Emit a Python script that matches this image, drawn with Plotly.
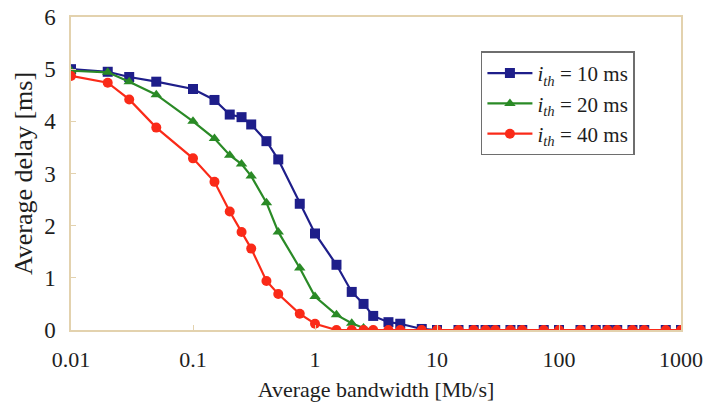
import plotly.graph_objects as go

bandwidth = [0.01, 0.02, 0.03, 0.05, 0.1, 0.15, 0.2, 0.25, 0.3, 0.4, 0.5, 0.75,
             1, 1.5, 2, 2.5, 3, 4, 5, 7.5, 10, 15, 20, 25, 30, 40, 50, 75,
             100, 150, 200, 250, 300, 400, 500, 750, 1000]

delay_10 = [5.0, 4.95, 4.85, 4.76, 4.62, 4.41, 4.13, 4.08, 3.94, 3.62, 3.27, 2.42,
            1.85, 1.25, 0.73, 0.5, 0.27, 0.15, 0.12, 0.02, 0.0, 0.0, 0.0, 0.0, 0.0, 0.0, 0.0, 0.0,
            0.0, 0.0, 0.0, 0.0, 0.0, 0.0, 0.0, 0.0, 0.0]
delay_20 = [4.97, 4.94, 4.76, 4.51, 4.0, 3.67, 3.35, 3.18, 2.95, 2.44, 1.88, 1.19,
            0.64, 0.29, 0.13, 0.04, 0.0, 0.0, 0.0, 0.0, 0.0, 0.0, 0.0, 0.0, 0.0, 0.0, 0.0, 0.0,
            0.0, 0.0, 0.0, 0.0, 0.0, 0.0, 0.0, 0.0, 0.0]
delay_40 = [4.87, 4.74, 4.42, 3.88, 3.29, 2.84, 2.27, 1.88, 1.56, 0.94, 0.69, 0.31,
            0.12, 0.0, 0.0, 0.0, 0.0, 0.0, 0.0, 0.0, 0.0, 0.0, 0.0, 0.0, 0.0, 0.0, 0.0, 0.0,
            0.0, 0.0, 0.0, 0.0, 0.0, 0.0, 0.0, 0.0, 0.0]

series_names = ["<i>i</i><sub><i>th</i></sub> = 10 ms",
                "<i>i</i><sub><i>th</i></sub> = 20 ms",
                "<i>i</i><sub><i>th</i></sub> = 40 ms"]

x_tickvals = [0.01, 0.1, 1, 10, 100, 1000]
x_ticktext = ["0.01", "0.1", "1", "10", "100", "1000"]
y_tickvals = [0, 1, 2, 3, 4, 5, 6]

FONT = "Liberation Serif"
AXIS_COLOR = "#E3D2AE"
TEXT_COLOR = "#1E1E1E"

fig = go.Figure()
styles = [
    (delay_10, "#1E1E8A", "square"),
    (delay_20, "#2A8A26", "triangle-up"),
    (delay_40, "#FA2A18", "circle"),
]
for (ys, color, symbol), name in zip(styles, series_names):
    fig.add_trace(go.Scatter(
        x=bandwidth, y=ys, mode="lines+markers", name=name,
        line=dict(color=color, width=2.2),
        marker=dict(symbol=symbol, size=10, color=color),
    ))

fig.update_layout(
    width=712, height=410,
    margin=dict(l=71, r=31, t=17, b=80, autoexpand=False),
    plot_bgcolor="white", paper_bgcolor="white",
    font=dict(family=FONT, size=22, color=TEXT_COLOR),
    showlegend=True,
    legend=dict(
        x=0.672, y=0.89, xanchor="left", yanchor="top",
        bgcolor="white", bordercolor="#6E6E6E", borderwidth=1.5,
        font=dict(family=FONT, size=21, color=TEXT_COLOR),
        itemwidth=45, tracegroupgap=0,
    ),
)
fig.update_xaxes(
    type="log", range=[-2, 3], automargin=False,
    tickvals=x_tickvals, ticktext=x_ticktext,
    showgrid=False, zeroline=False,
    showline=True, linecolor=AXIS_COLOR, linewidth=1.5, mirror=True,
    ticks="inside", ticklen=5, tickcolor=AXIS_COLOR,
    tickfont=dict(family=FONT, size=22, color=TEXT_COLOR),
    ticklabelstandoff=9, ticklabeloverflow="allow",
    title=dict(text="Average bandwidth [Mb/s]", font=dict(family=FONT, size=22), standoff=10),
)
fig.update_yaxes(
    range=[0, 6], automargin=False, tickvals=y_tickvals,
    showgrid=False, zeroline=False,
    showline=True, linecolor=AXIS_COLOR, linewidth=1.5, mirror=True,
    ticks="inside", ticklen=5, tickcolor=AXIS_COLOR,
    tickfont=dict(family=FONT, size=23, color=TEXT_COLOR),
    ticklabelstandoff=9, ticklabeloverflow="allow",
    title=dict(text="Average delay [ms]", font=dict(family=FONT, size=26), standoff=4),
)

fig.write_html("out.html",
               config={"displayModeBar": False},
               post_script="document.body.style.margin='0';document.body.style.overflow='hidden';")
